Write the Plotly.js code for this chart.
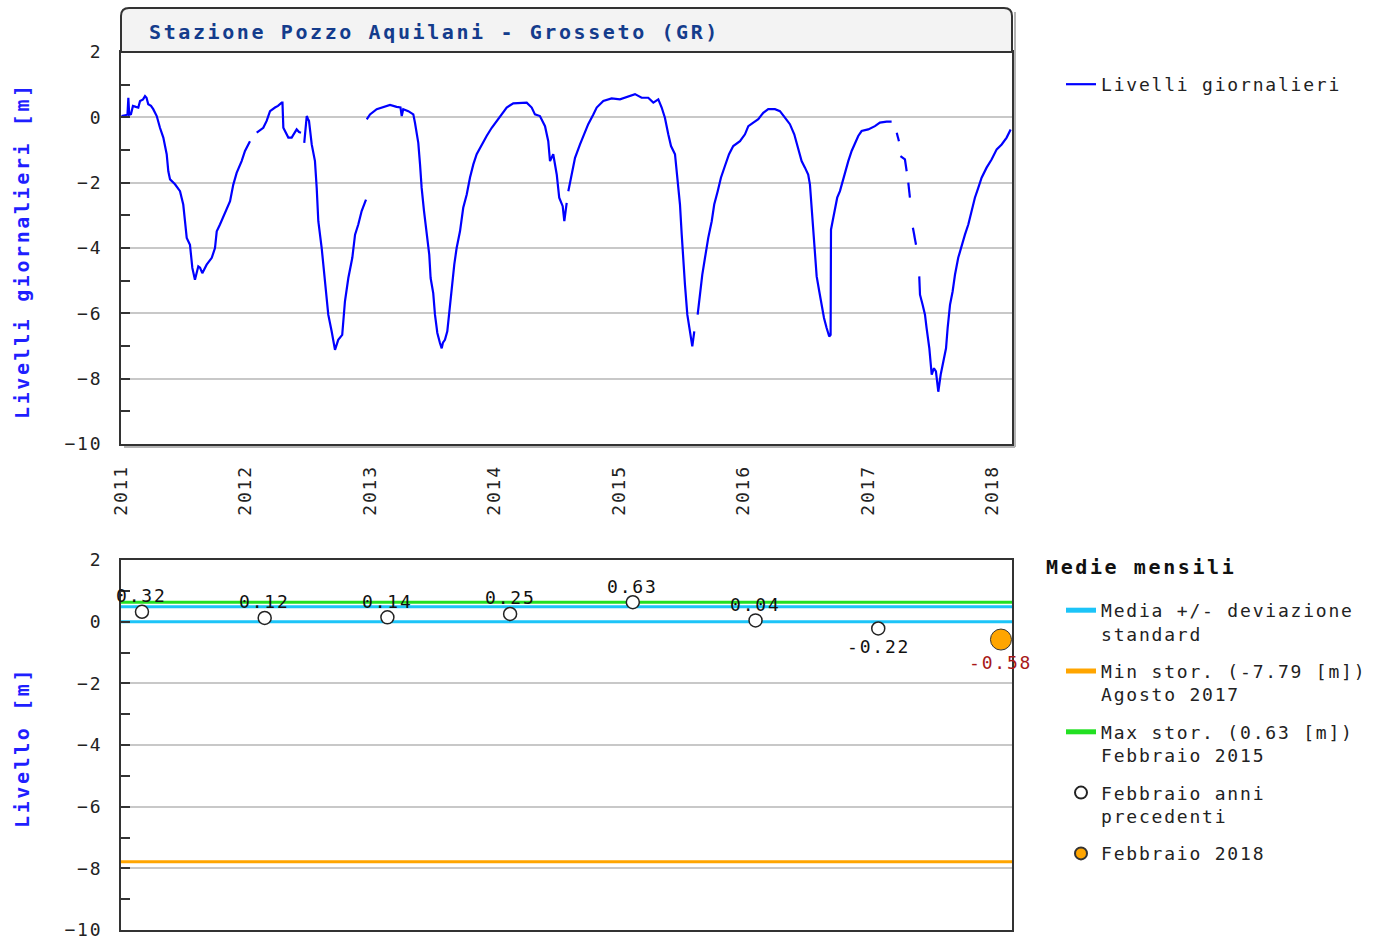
<!DOCTYPE html>
<html>
<head>
<meta charset="utf-8">
<script src="https://cdn.plot.ly/plotly-3.0.1.min.js"></script>
<style>
body{margin:0;background:#fff;}
svg text{letter-spacing:1.8px;}
svg text tspan[style*="bold"]{letter-spacing:2.6px;}
</style>
</head>
<body>
<div id="chart" style="width:1382px;height:943px;"></div>
<script>
// ---------- DATA ----------
const stationTitle = 'Stazione Pozzo Aquilani - Grosseto (GR)';
const yearTicks = [2011, 2012, 2013, 2014, 2015, 2016, 2017, 2018];

// Daily levels (decimal year, metres); null = missing data
const levelYears = [
2011.004,2011.024,2011.052,2011.059,2011.066,2011.080,2011.096,2011.120,2011.139,2011.153,
2011.177,2011.193,2011.205,2011.219,2011.241,2011.259,2011.287,2011.313,2011.340,2011.367,
2011.380,2011.394,2011.434,2011.474,2011.500,2011.514,2011.528,2011.554,2011.573,2011.594,
2011.621,2011.635,2011.653,2011.688,2011.729,2011.755,2011.769,2011.795,2011.835,2011.876,
2011.902,2011.929,2011.969,2011.996,2012.036,2012.060,2012.090,2012.143,2012.170,2012.197,
2012.237,2012.261,2012.291,2012.297,2012.304,2012.344,2012.371,2012.390,2012.411,2012.430,
2012.446,2012.459,2012.472,2012.482,2012.492,2012.502,2012.510,2012.532,2012.558,2012.572,
2012.585,2012.612,2012.639,2012.665,2012.692,2012.719,2012.745,2012.777,2012.799,2012.826,
2012.858,2012.880,2012.906,2012.933,2012.968,2012.971,2012.974,2013.000,2013.054,2013.107,
2013.161,2013.214,2013.245,2013.255,2013.267,2013.308,2013.348,2013.361,2013.388,2013.402,
2013.415,2013.434,2013.455,2013.476,2013.487,2013.508,2013.522,2013.541,2013.562,2013.576,
2013.586,2013.602,2013.621,2013.637,2013.656,2013.677,2013.696,2013.723,2013.749,2013.777,
2013.803,2013.830,2013.857,2013.897,2013.937,2013.978,2014.018,2014.058,2014.098,2014.151,
2014.205,2014.259,2014.299,2014.325,2014.365,2014.406,2014.432,2014.446,2014.472,2014.500,
2014.520,2014.548,2014.561,2014.580,2014.586,2014.593,2014.620,2014.647,2014.687,2014.727,
2014.753,2014.794,2014.821,2014.874,2014.941,2015.008,2015.062,2015.129,2015.182,2015.235,
2015.276,2015.316,2015.343,2015.369,2015.396,2015.418,2015.450,2015.471,2015.490,2015.504,
2015.516,2015.530,2015.549,2015.570,2015.589,2015.605,2015.618,2015.632,2015.651,2015.669,
2015.691,2015.717,2015.745,2015.765,2015.793,2015.819,2015.851,2015.884,2015.918,2015.972,
2016.012,2016.039,2016.079,2016.119,2016.159,2016.199,2016.253,2016.293,2016.333,2016.373,
2016.408,2016.440,2016.467,2016.494,2016.520,2016.534,2016.548,2016.561,2016.574,2016.588,
2016.609,2016.628,2016.647,2016.668,2016.689,2016.700,2016.703,2016.721,2016.735,2016.753,
2016.775,2016.797,2016.815,2016.842,2016.869,2016.896,2016.922,2016.949,2017.002,2017.056,
2017.096,2017.150,2017.190,2017.210,2017.231,2017.249,2017.255,2017.261,2017.297,2017.311,
2017.318,2017.324,2017.337,2017.349,2017.361,2017.386,2017.399,2017.412,2017.418,2017.439,
2017.458,2017.471,2017.493,2017.512,2017.530,2017.546,2017.565,2017.584,2017.605,2017.627,
2017.640,2017.659,2017.680,2017.699,2017.725,2017.752,2017.779,2017.806,2017.833,2017.859,
2017.886,2017.913,2017.953,2017.993,2018.034,2018.074,2018.114,2018.146
];
const levelValues = [
0.04,0.05,0.08,0.6,0.08,0.1,0.35,0.32,0.3,0.5,
0.55,0.65,0.6,0.4,0.35,0.25,0.04,-0.32,-0.62,-1.13,
-1.65,-1.9,-2.05,-2.26,-2.67,-3.18,-3.69,-3.9,-4.61,-4.97,
-4.56,-4.6,-4.77,-4.51,-4.3,-4.0,-3.49,-3.28,-2.92,-2.57,
-2.06,-1.7,-1.34,-1.03,-0.73,null,-0.47,-0.32,-0.11,0.19,
0.3,0.35,0.45,0.45,-0.32,-0.62,-0.62,-0.5,-0.37,-0.45,
-0.47,null,-0.78,-0.3,0.04,-0.05,-0.11,-0.83,-1.34,-2.16,
-3.18,-4.0,-5.12,-6.04,-6.55,-7.12,-6.81,-6.66,-5.63,-4.92,
-4.3,-3.59,-3.28,-2.87,-2.52,null,-0.06,0.09,0.25,0.32,
0.38,0.32,0.3,0.04,0.25,0.19,0.09,-0.16,-0.78,-1.44,
-2.16,-2.87,-3.59,-4.2,-4.92,-5.38,-6.04,-6.6,-6.91,-7.07,
-6.9,-6.81,-6.55,-5.94,-5.12,-4.51,-4.0,-3.49,-2.77,-2.36,
-1.85,-1.44,-1.13,-0.83,-0.57,-0.32,-0.11,0.09,0.3,0.43,
0.43,0.45,0.3,0.09,0.04,-0.27,-0.73,-1.34,-1.13,-1.75,
-2.46,-2.72,-3.18,-2.62,null,-2.26,-1.75,-1.24,-0.83,-0.42,
-0.21,0.09,0.3,0.5,0.58,0.55,0.63,0.71,0.6,0.6,
0.45,0.55,0.3,-0.01,-0.52,-0.88,-1.13,-1.95,-2.67,-3.59,
-4.41,-5.12,-6.04,-6.55,-7.01,-6.55,null,-6.04,-5.33,-4.82,
-4.3,-3.69,-3.18,-2.67,-2.26,-1.85,-1.49,-1.13,-0.88,-0.73,
-0.52,-0.27,-0.16,-0.06,0.14,0.25,0.25,0.19,-0.01,-0.21,
-0.52,-0.93,-1.34,-1.54,-1.75,-2.06,-2.87,-3.49,-4.2,-4.87,
-5.33,-5.74,-6.14,-6.45,-6.71,-6.66,-3.44,-3.08,-2.77,-2.46,
-2.26,-1.95,-1.65,-1.34,-1.03,-0.78,-0.57,-0.42,-0.37,-0.27,
-0.16,-0.13,-0.13,null,-0.47,-0.73,null,-1.19,-1.29,-1.65,
null,-2.0,-2.46,null,-3.38,-3.9,null,-4.87,-5.43,-5.74,
-6.04,-6.45,-7.07,-7.88,-7.68,-7.78,-8.4,-7.88,-7.48,-7.07,
-6.45,-5.74,-5.33,-4.82,-4.3,-3.9,-3.59,-3.28,-2.87,-2.46,
-2.16,-1.85,-1.54,-1.29,-0.98,-0.83,-0.62,-0.37
];

// February monthly means
const febYears  = [2011, 2012, 2013, 2014, 2015, 2016, 2017, 2018];
const febValues = [0.32, 0.12, 0.14, 0.25, 0.63, 0.04, -0.22, -0.58];
const meanFeb = 0.24;
const sdFeb = 0.24;
const minHist = -7.79, minHistLabel = 'Agosto 2017';
const maxHist = 0.63,  maxHistLabel = 'Febbraio 2015';

// ---------- LAYOUT HELPERS ----------
const W = 1382, H = 943;
const fx = p => p / W;
const fy = p => 1 - p / H;
const MONO = '"DejaVu Sans Mono", "Liberation Mono", monospace';
const x2Range = [2010.829, 2018.09];

const prevYears = febYears.slice(0, -1), prevVals = febValues.slice(0, -1);
const curYear = febYears[febYears.length - 1], curVal = febValues[febValues.length - 1];

const traces = [
  {x: levelYears, y: levelValues, type: 'scatter', mode: 'lines', name: 'Livelli giornalieri',
   line: {color: '#0000ff', width: 2.2}, connectgaps: false, xaxis: 'x', yaxis: 'y', legend: 'legend'},
  {x: [x2Range[0], x2Range[1], null, x2Range[0], x2Range[1]],
   y: [meanFeb + sdFeb, meanFeb + sdFeb, null, meanFeb - sdFeb, meanFeb - sdFeb],
   type: 'scatter', mode: 'lines', name: 'Media +/- deviazione<br>standard',
   line: {color: '#1cc4f8', width: 3}, xaxis: 'x2', yaxis: 'y2', legend: 'legend2', legendgroup: 'a'},
  {x: x2Range, y: [minHist, minHist], type: 'scatter', mode: 'lines',
   name: 'Min stor. (' + minHist.toFixed(2) + ' [m])<br>' + minHistLabel,
   line: {color: '#ffa500', width: 3}, xaxis: 'x2', yaxis: 'y2', legend: 'legend2', legendgroup: 'b'},
  {x: x2Range, y: [maxHist, maxHist], type: 'scatter', mode: 'lines',
   name: 'Max stor. (' + maxHist.toFixed(2) + ' [m])<br>' + maxHistLabel,
   line: {color: '#22e022', width: 3}, xaxis: 'x2', yaxis: 'y2', legend: 'legend2', legendgroup: 'c'},
  {x: prevYears, y: prevVals, type: 'scatter', mode: 'markers', name: 'Febbraio anni<br>precedenti',
   marker: {color: '#ffffff', size: 13, line: {color: '#222', width: 1.5}},
   xaxis: 'x2', yaxis: 'y2', legend: 'legend2', legendgroup: 'd', cliponaxis: false},
  {x: [curYear], y: [curVal], type: 'scatter', mode: 'markers', name: 'Febbraio ' + curYear,
   marker: {color: '#ffa500', size: 21, line: {color: '#333', width: 1}},
   xaxis: 'x2', yaxis: 'y2', legend: 'legend2', legendgroup: 'e', cliponaxis: false}
];

const tickFont = {family: MONO, size: 18, color: '#222'};
const yCommon = {
  range: [-10, 2], dtick: 2, tick0: 0, showgrid: true, gridcolor: '#c8c8c8', gridwidth: 2,
  zeroline: false, ticks: 'inside', ticklen: 9, tickwidth: 2, tickcolor: '#333',
  minor: {dtick: 1, tick0: 0, ticks: 'inside', ticklen: 9, tickwidth: 2, tickcolor: '#333', showgrid: false},
  linecolor: '#333', linewidth: 2, mirror: true, tickfont: tickFont, ticklabelstandoff: 13, fixedrange: true
};

const annotations = [
  {xref: 'paper', yref: 'paper', x: fx(147), y: fy(32), xanchor: 'left', yanchor: 'middle',
   text: '<b>' + stationTitle + '</b>', showarrow: false, font: {family: MONO, size: 20, color: '#143c8c'}},
  {xref: 'paper', yref: 'paper', x: fx(22), y: fy(251), xanchor: 'center', yanchor: 'middle', textangle: -90,
   text: '<b>Livelli giornalieri [m]</b>', showarrow: false, font: {family: MONO, size: 20, color: '#1f1fff'}},
  {xref: 'paper', yref: 'paper', x: fx(22), y: fy(748), xanchor: 'center', yanchor: 'middle', textangle: -90,
   text: '<b>Livello [m]</b>', showarrow: false, font: {family: MONO, size: 20, color: '#1f1fff'}},
  {xref: 'paper', yref: 'paper', x: fx(1044), y: fy(567), xanchor: 'left', yanchor: 'middle',
   text: '<b>Medie mensili</b>', showarrow: false, font: {family: MONO, size: 20, color: '#111'}}
];
febYears.forEach((yr, i) => {
  const v = febValues[i];
  const isCur = i === febYears.length - 1;
  annotations.push({
    xref: 'x2', yref: 'y2', x: yr, y: v, text: v.toFixed(2), showarrow: false,
    yshift: v >= 0 ? 16 : (isCur ? -23 : -18),
    font: {family: MONO, size: 18, color: isCur ? '#a81818' : '#111'}
  });
});

// rounded title box
const bx0 = fx(121), bx1 = fx(1012), by0 = fy(52), by1 = fy(8);
const rx = 8 / W, ry = 8 / H;
const boxPath = `M ${bx0} ${by0} L ${bx0} ${by1 - ry} Q ${bx0} ${by1} ${bx0 + rx} ${by1} L ${bx1 - rx} ${by1} Q ${bx1} ${by1} ${bx1} ${by1 - ry} L ${bx1} ${by0} Z`;

const shadow = {color: '#b4b4b4', width: 2};
const layout = {
  width: W, height: H, autosize: false,
  margin: {l: 0, r: 0, t: 0, b: 0, pad: 0},
  paper_bgcolor: '#ffffff', plot_bgcolor: '#ffffff',
  font: {family: MONO, size: 18, color: '#222'},
  xaxis: {
    domain: [fx(121), fx(1012)], anchor: 'y', range: [2011, 2018.157],
    tickmode: 'array', tickvals: yearTicks, ticktext: yearTicks.map(String), tickangle: -90,
    ticks: '', showgrid: false, zeroline: false, linecolor: '#333', linewidth: 2, mirror: true,
    tickfont: tickFont, ticklabelstandoff: 12, fixedrange: true
  },
  yaxis: Object.assign({domain: [fy(444), fy(52)], anchor: 'x'}, yCommon),
  xaxis2: {
    domain: [fx(121), fx(1012)], anchor: 'y2', range: x2Range, showticklabels: false,
    ticks: '', showgrid: false, zeroline: false, linecolor: '#333', linewidth: 2, mirror: true, fixedrange: true
  },
  yaxis2: Object.assign({domain: [fy(930), fy(560)], anchor: 'x2'}, yCommon),
  showlegend: true,
  legend: {
    x: fx(1061), xanchor: 'left', y: fy(66), yanchor: 'top',
    bgcolor: 'rgba(0,0,0,0)', borderwidth: 0, font: {family: MONO, size: 18, color: '#222'}
  },
  legend2: {
    x: fx(1061), xanchor: 'left', y: fy(592), yanchor: 'top',
    bgcolor: 'rgba(0,0,0,0)', borderwidth: 0, traceorder: 'grouped', tracegroupgap: 11,
    itemsizing: 'constant', valign: 'top',
    font: {family: MONO, size: 18, color: '#222'}
  },
  shapes: [
    {type: 'line', xref: 'paper', yref: 'paper', x0: fx(1015), x1: fx(1015), y0: fy(12), y1: fy(447), line: shadow, layer: 'below'},
    {type: 'line', xref: 'paper', yref: 'paper', x0: fx(124), x1: fx(1015), y0: fy(447), y1: fy(447), line: shadow, layer: 'below'},
    {type: 'path', xref: 'paper', yref: 'paper', path: boxPath, fillcolor: '#f3f3f3',
     line: {color: '#333', width: 2}, layer: 'above'}
  ],
  annotations: annotations
};

Plotly.newPlot('chart', traces, layout, {displayModeBar: false, staticPlot: true});
</script>
</body>
</html>
